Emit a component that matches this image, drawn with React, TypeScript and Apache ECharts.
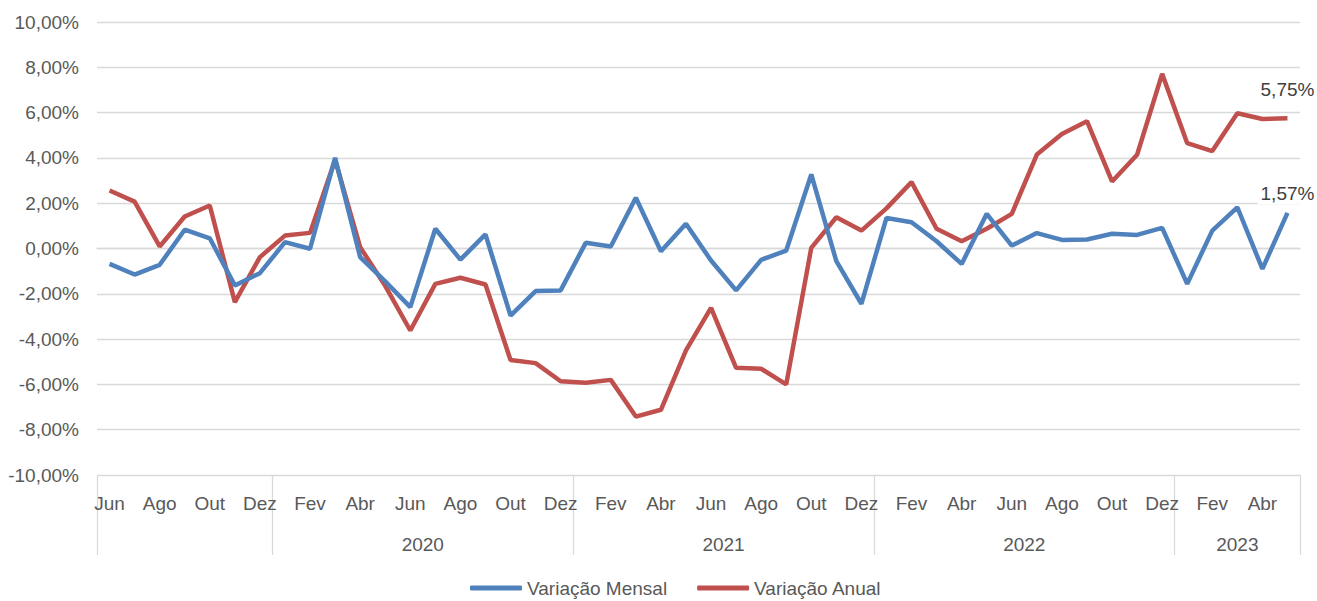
import React, { useEffect, useRef } from "react";
import * as echarts from "echarts";

const months = [
  "Jun", "Jul", "Ago", "Set", "Out", "Nov", "Dez",
  "Jan", "Fev", "Mar", "Abr", "Mai", "Jun", "Jul", "Ago", "Set", "Out", "Nov", "Dez",
  "Jan", "Fev", "Mar", "Abr", "Mai", "Jun", "Jul", "Ago", "Set", "Out", "Nov", "Dez",
  "Jan", "Fev", "Mar", "Abr", "Mai", "Jun", "Jul", "Ago", "Set", "Out", "Nov", "Dez",
  "Jan", "Fev", "Mar", "Abr", "Mai",
];
const groupLabels = ["", "2020", "2021", "2022", "2023"];
const groupSizes = [7, 12, 12, 12, 5];

const mensal = [
  -0.68, -1.15, -0.72, 0.83, 0.45, -1.63, -1.09, 0.28, -0.01, 4.0, -0.38, -1.45,
  -2.59, 0.87, -0.49, 0.62, -2.96, -1.88, -1.85, 0.25, 0.09, 2.24, -0.12, 1.09,
  -0.53, -1.85, -0.5, -0.09, 3.27, -0.56, -2.44, 1.35, 1.16, 0.32, -0.68, 1.53,
  0.13, 0.68, 0.38, 0.4, 0.65, 0.6, 0.91, -1.56, 0.79, 1.82, -0.9, 1.57,
];
const anual = [
  2.56, 2.07, 0.09, 1.41, 1.9, -2.37, -0.38, 0.57, 0.69, 3.91, 0.06, -1.65,
  -3.62, -1.56, -1.29, -1.59, -4.92, -5.06, -5.86, -5.93, -5.8, -7.42, -7.12, -4.5,
  -2.62, -5.27, -5.31, -6.0, 0.03, 1.38, 0.79, 1.77, 2.93, 0.87, 0.32, 0.87,
  1.53, 4.15, 5.06, 5.62, 2.96, 4.14, 7.71, 4.65, 4.3, 5.97, 5.72, 5.75,
];

const FONT = "'Liberation Sans', Arial, sans-serif";
const FS = 19;
const fmtPct = (v: number) => v.toFixed(2).replace(".", ",") + "%";

export default function App() {
  const ref = useRef<HTMLDivElement>(null);
  useEffect(() => {
    document.body.style.margin = "0";
    if (!ref.current) return;
    const chart = echarts.init(ref.current, undefined, { renderer: "svg" });

    // Year row: half-month positions along the axis
    const n = months.length;
    const yearData: string[] = new Array(n * 2 + 1).fill("");
    const boundaries = new Set<number>();
    let start = 0;
    groupSizes.forEach((size, g) => {
      const end = start + size;
      boundaries.add(start * 2);
      boundaries.add(end * 2);
      yearData[start + end] = groupLabels[g];
      start = end;
    });
    const yearCats = yearData.map((s, i) => ({ value: s === "" ? "p" + i : s, label: s }));

    const lastIdx = n - 1;
    const mkData = (arr: number[], dist: number) =>
      arr.map((v, i) =>
        i === lastIdx
          ? {
              value: v,
              label: {
                show: true,
                position: "top",
                distance: dist,
                formatter: (p: any) => fmtPct(p.value),
                color: "#404040",
                fontSize: FS,
                fontFamily: FONT,
                backgroundColor: "#ffffff",
                padding: [1, 3],
              },
            }
          : v
      );

    chart.setOption({
      animation: false,
      backgroundColor: "#ffffff",
      grid: { left: 97, right: 17, top: 22, bottom: 126 },
      legend: {
        top: 577,
        left: 470,
        padding: 0,
        itemWidth: 52,
        itemHeight: 5,
        itemGap: 30,
        icon: "roundRect",
        textStyle: { color: "#595959", fontSize: FS, lineHeight: 22, fontFamily: FONT },
        data: ["Variação Mensal", "Variação Anual"],
      },
      xAxis: [
        {
          type: "category",
          data: months,
          boundaryGap: true,
          axisLine: { show: true, lineStyle: { color: "#d9d9d9", width: 1.3 } },
          axisTick: { show: false },
          axisLabel: {
            interval: 1,
            margin: 19,
            color: "#595959",
            fontSize: FS,
            fontFamily: FONT,
          },
          splitLine: { show: false },
        },
        {
          type: "category",
          data: yearCats.map((c) => c.value),
          boundaryGap: false,
          position: "bottom",
          axisLine: { show: false },
          axisTick: {
            show: true,
            length: 80,
            interval: (i: number) => boundaries.has(i),
            lineStyle: { color: "#d9d9d9", width: 1.3 },
          },
          axisLabel: {
            interval: 0,
            margin: 60,
            color: "#595959",
            fontSize: FS,
            fontFamily: FONT,
            formatter: (_v: string, i: number) => yearCats[i].label,
          },
          splitLine: { show: false },
        },
      ],
      yAxis: {
        type: "value",
        min: -10,
        max: 10,
        interval: 2,
        axisLine: { show: false },
        axisTick: { show: false },
        axisLabel: {
          margin: 18,
          color: "#595959",
          fontSize: FS,
          fontFamily: FONT,
          formatter: (v: number) => fmtPct(v),
        },
        splitLine: { lineStyle: { color: "#d9d9d9", width: 1.3 } },
      },
      series: [
        {
          name: "Variação Mensal",
          type: "line",
          data: mkData(mensal, 9),
          color: "#4f81bd",
          lineStyle: { width: 4.5, color: "#4f81bd" },
          symbol: "circle",
          symbolSize: 0,
          showSymbol: true,
          itemStyle: { color: "#4f81bd" },
          z: 3,
        },
        {
          name: "Variação Anual",
          type: "line",
          data: mkData(anual, 18),
          color: "#c0504d",
          lineStyle: { width: 4.5, color: "#c0504d" },
          symbol: "circle",
          symbolSize: 0,
          showSymbol: true,
          itemStyle: { color: "#c0504d" },
          z: 2,
        },
      ],
    });
    return () => chart.dispose();
  }, []);
  return <div ref={ref} style={{ width: 1317, height: 601 }} />;
}
